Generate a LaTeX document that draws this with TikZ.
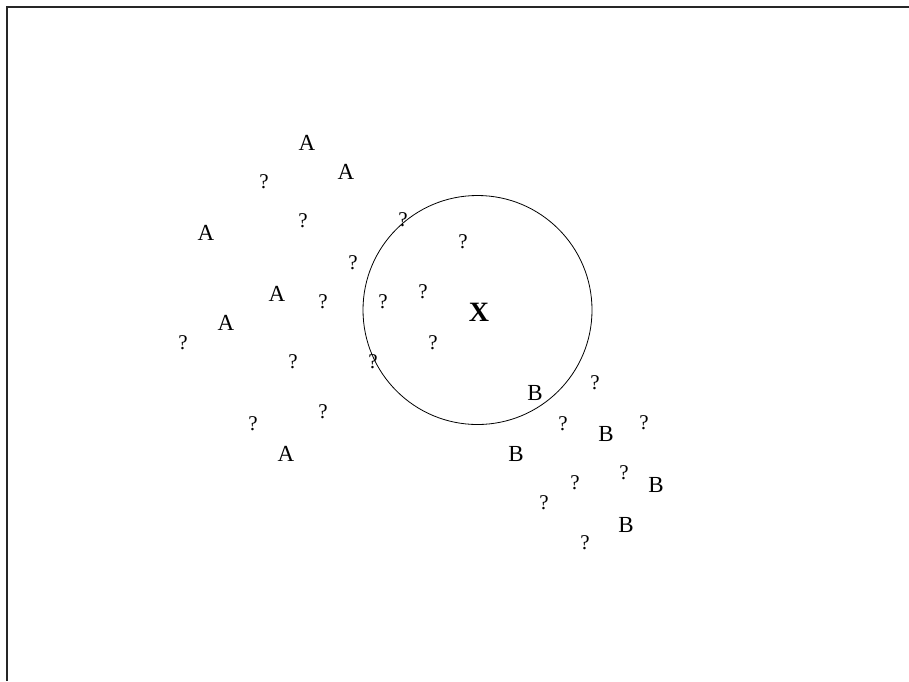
\documentclass[tikz,border=0pt]{standalone}
\usepackage{fontspec}
\setmainfont{Liberation Serif}
\usetikzlibrary{positioning}
\tikzset{
  lbl/.style={inner sep=0pt, font=\fontsize{23}{25}\selectfont},
  unk/.style={lbl, font=\fontsize{21}{23}\selectfont},
  frame/.style={line width=1.5pt, black!85},
}
\begin{document}
\begin{tikzpicture}[x=1pt, y=-1pt]
  \useasboundingbox (0,0) rectangle (909,681);
  \coordinate (tl) at (7,7);
  \coordinate (tr) at (909,7);
  \coordinate (bl) at (7,681);
  \draw[frame] (bl) -- (tl) -- (tr);
  % query point and its neighbourhood
  \coordinate (ctr) at (477.5,310);
  \draw[line width=0.8pt] (ctr) circle (114.5);
  \node[lbl, font=\fontsize{28}{30}\selectfont\bfseries] (x) at (479,312) {X};
  % class A
  \foreach \px/\py [count=\i] in {307/143, 346/172, 206/233, 277/294, 226/323, 286/454}
    \node[lbl] (a\i) at (\px,\py) {A};
  % class B
  \foreach \px/\py [count=\i] in {535/393, 606/434, 516/454, 656/485, 626/525}
    \node[lbl] (b\i) at (\px,\py) {B};
  % unlabelled points
  \foreach \px/\py [count=\i] in {264/182, 303/221, 353/263, 323/302, 183/343,
      293/362, 253/424, 323/412, 403/220, 463/242, 383/302, 423/292, 433/343,
      373/362, 595/383, 563/424, 644/423, 575/483, 624/473, 544/503, 585/543}
    \node[unk] (q\i) at (\px,\py) {?};
\end{tikzpicture}
\end{document}
